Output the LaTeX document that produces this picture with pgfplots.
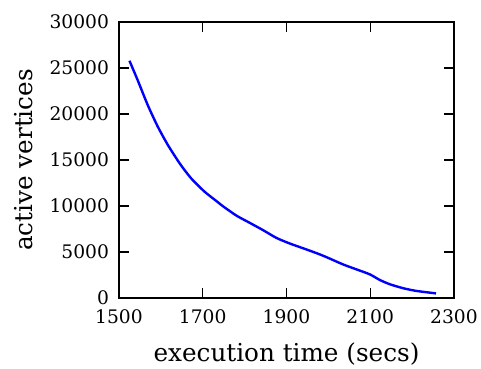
\documentclass[border=0pt]{standalone}
\usepackage{fontspec}
\setmainfont{DejaVu Serif}
\usepackage{pgfplots}
\pgfplotsset{compat=1.18}
\begin{document}
\begin{tikzpicture}
\begin{axis}[
  scale only axis,
  width=251.25pt, height=207pt,
  xmin=1500, xmax=2300, ymin=0, ymax=30000,
  xtick={1500,1700,1900,2100,2300},
  ytick={0,5000,10000,15000,20000,25000,30000},
  minor tick num=0,
  tick align=inside,
  tick pos=both,
  major tick length=7.5pt,
  every tick/.style={black, line width=1pt},
  axis line style={black, line width=1.5pt},
  scaled y ticks=false,
  scaled x ticks=false,
  /pgf/number format/1000 sep={},
  /pgf/number format/assume math mode=true,
  ticklabel style={font=\fontsize{14}{16}\selectfont},
  xticklabel style={anchor=north, yshift=-5pt},
  yticklabel style={anchor=east, xshift=-4pt},
  xlabel={execution time (secs)},
  ylabel={active vertices},
  label style={font=\fontsize{18.5}{22}\selectfont},
  xlabel style={at={([yshift=-48pt]axis description cs:0.5,0)}, anchor=base},
  ylabel style={at={([xshift=-64.5pt]axis description cs:0,0.5)}, rotate=0, anchor=base},
]
\addplot[blue, line width=1.8pt, smooth, tension=0.4] coordinates {
(1525,25790) (1545,23630) (1569,20930) (1593,18590) (1617,16610)
(1645,14630) (1672,13020) (1704,11570) (1732,10560) (1749,9950)
(1781,8940) (1813,8150) (1845,7350) (1876,6530) (1908,5920)
(1948,5270) (1980,4730) (2004,4270) (2035,3650) (2067,3110)
(2099,2570) (2123,1955) (2147,1490) (2179,1060) (2210,770) (2257,500)
};
\coordinate (sw) at (rel axis cs:0,0);
\coordinate (ne) at (rel axis cs:1,1);
\end{axis}
\pgfresetboundingbox
\path[use as bounding box] ([shift={(-89.25pt,-53.25pt)}]sw) rectangle ([shift={(20.25pt,16.5pt)}]ne);
\end{tikzpicture}
\end{document}
